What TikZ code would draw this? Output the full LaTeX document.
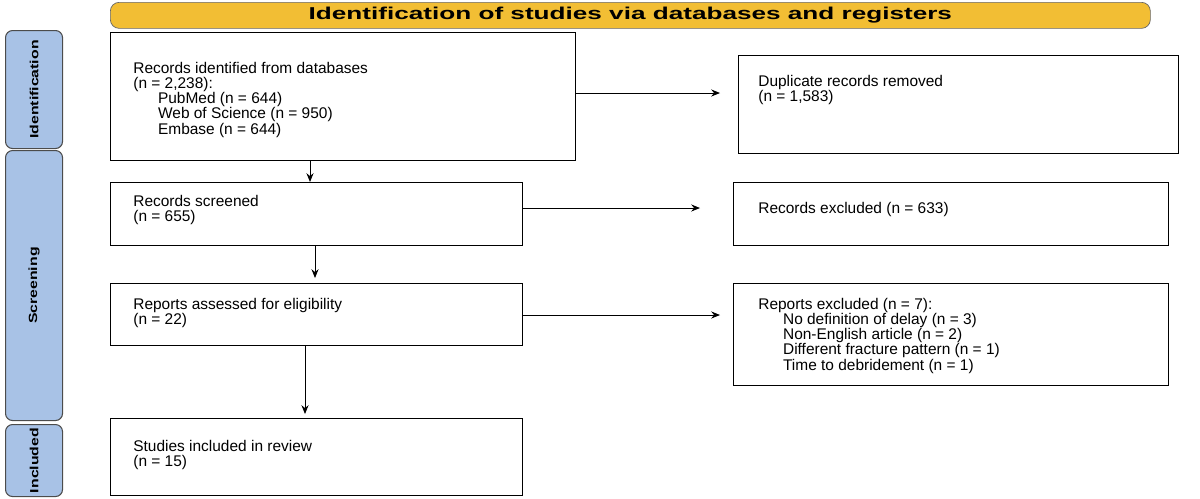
\documentclass[tikz,border=0pt]{standalone}
\usetikzlibrary{arrows.meta}
\usepackage{fontspec}
\setmainfont{Liberation Sans}
\begin{document}
\begin{tikzpicture}[x=0.02cm,y=-0.02cm,
  box/.style={draw,line width=0.6pt,anchor=north west,inner sep=0pt},
  txt/.style={anchor=north west,align=left,font=\fontsize{8.8}{8.6}\selectfont,inner sep=0pt},
  side/.style={draw=black!70,fill=sidec,rounded corners=4pt,line width=0.6pt,anchor=north west,inner sep=0pt},
  sidet/.style={rotate=90,font=\bfseries\fontsize{9}{10}\selectfont},
  arr/.style={-{Stealth[length=5pt,width=4pt]},line width=0.5pt}]
\definecolor{sidec}{HTML}{A8C2E6}
\definecolor{gold}{HTML}{F2BE34}
\useasboundingbox (0,0) rectangle (1200,498);
% banner
\node[draw=black!60,fill=gold,rounded corners=5pt,minimum width=1040*0.02cm,minimum height=26*0.02cm,anchor=north west,inner sep=0pt] (ban) at (110,2) {};
\node[font=\bfseries\fontsize{8.5}{10}\selectfont] at (ban.center) {\scalebox{1.75}[1.15]{Identification of studies via databases and registers}};
% side bars
\node[side,minimum width=57*0.02cm,minimum height=118*0.02cm] (s1) at (5,30) {};
\node[sidet] at (s1.center) {\scalebox{1}[0.75]{Identification}};
\node[side,minimum width=57*0.02cm,minimum height=270*0.02cm] (s2) at (5,150) {};
\node[sidet] at (s2.center) {\scalebox{1}[0.75]{Screening}};
\node[side,minimum width=57*0.02cm,minimum height=72*0.02cm] (s3) at (5,424) {};
\node[sidet] at (s3.center) {\scalebox{1}[0.75]{Included}};
% boxes
\node[box,minimum width=465*0.02cm,minimum height=128*0.02cm] (b1) at (110,32) {};
\node[txt] at (133,62) {Records identified from databases\\(n = 2,238):\\\hspace*{1.6em}PubMed (n = 644)\\\hspace*{1.6em}Web of Science (n = 950)\\\hspace*{1.6em}Embase (n = 644)};
\node[box,minimum width=440*0.02cm,minimum height=98*0.02cm] (d1) at (738,55) {};
\node[txt] at (758,75) {Duplicate records removed\\(n = 1,583)};
\node[box,minimum width=412*0.02cm,minimum height=63*0.02cm] (b2) at (110,182) {};
\node[txt] at (133,195) {Records screened\\(n = 655)};
\node[box,minimum width=435*0.02cm,minimum height=63*0.02cm] (d2) at (733,182) {};
\node[txt] at (758,202) {Records excluded (n = 633)};
\node[box,minimum width=412*0.02cm,minimum height=62*0.02cm] (b3) at (110,283) {};
\node[txt] at (133,298) {Reports assessed for eligibility\\(n = 22)};
\node[box,minimum width=435*0.02cm,minimum height=102*0.02cm] (d3) at (733,283) {};
\node[txt] at (758,298) {Reports excluded (n = 7):\\\hspace*{1.6em}No definition of delay (n = 3)\\\hspace*{1.6em}Non-English article (n = 2)\\\hspace*{1.6em}Different fracture pattern (n = 1)\\\hspace*{1.6em}Time to debridement (n = 1)};
\node[box,minimum width=412*0.02cm,minimum height=77*0.02cm] (b4) at (110,418) {};
\node[txt] at (133,440) {Studies included in review\\(n = 15)};
% arrows
\coordinate (e1) at (720,93); \draw[arr] (b1.east|-e1) -- (e1);
\coordinate (e2) at (700,208); \draw[arr] (b2.east|-e2) -- (e2);
\coordinate (e3) at (720,315); \draw[arr] (b3.east|-e3) -- (e3);
\coordinate (v1) at (310,160); \draw[arr] (v1) -- (v1|-b2.north);
\coordinate (v2) at (315,245); \draw[arr] (v2) -- (315,278);
\coordinate (v3) at (305,345); \draw[arr] (v3) -- (305,414);
\end{tikzpicture}
\end{document}
